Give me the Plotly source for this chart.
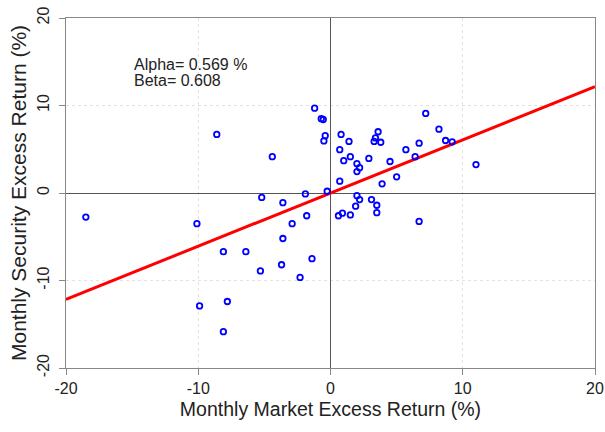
import plotly.graph_objects as go

# Monthly excess returns (%) for the market (x) and the security (y)
market_excess = [
    -18.5, -10.1, -1.2, -0.7, -0.55, -8.6, -0.4, -0.5, -4.4, -5.2,
    -3.6, -1.9, -0.25, -1.8, -2.9, -3.6, 7.2, 8.2, 0.8, 3.6,
    3.4, 3.3, 3.8, 1.4, 6.7, 8.7, 9.2, 0.7, 5.7, 1.5,
    2.9, 1.0, 4.5, 6.4, 2.0, 2.2, 2.0, 5.0, 0.7, 3.9,
    2.0, 2.2, 3.1, 3.5, 1.9, 3.5, 0.9, 0.6, 1.5, 6.7,
    11.0, -8.1, -6.4, -1.4, -3.7, -5.3, -2.3, -7.8, -9.9, -8.1,
]
security_excess = [
    -2.75, -3.5, 9.7, 8.5, 8.4, 6.7, 6.55, 5.95, 4.15, -0.5,
    -1.1, -0.1, 0.2, -2.6, -3.5, -5.2, 9.1, 7.3, 6.7, 7.0,
    6.3, 5.9, 5.8, 5.9, 5.7, 6.0, 5.85, 4.95, 4.95, 4.15,
    3.95, 3.7, 3.6, 4.15, 3.35, 2.9, 2.45, 1.85, 1.35, 1.05,
    -0.3, -0.75, -0.75, -1.4, -1.5, -2.25, -2.3, -2.6, -2.5, -3.25,
    3.25, -6.7, -6.7, -7.5, -8.2, -8.9, -9.65, -12.4, -12.9, -15.85,
]

alpha = 0.569
beta = 0.608

axis_range = [-20, 20]
tick_values = [-20, -10, 0, 10, 20]
tick_labels = ["-20", "-10", "0", "10", "20"]

font_family = "Liberation Sans, Arial, sans-serif"
text_color = "#222222"

fig = go.Figure()

# Characteristic line with slope beta
line_x = axis_range
line_y = [beta * x for x in line_x]
fig.add_trace(go.Scatter(
    x=line_x, y=line_y, mode="lines",
    line=dict(color="#ff0000", width=3),
    hoverinfo="skip", showlegend=False,
))

fig.add_trace(go.Scatter(
    x=market_excess, y=security_excess, mode="markers",
    marker=dict(symbol="circle-open", size=5.5, color="#0000ff",
                line=dict(width=1.8, color="#0000ff")),
    showlegend=False,
))

common_axis = dict(
    range=axis_range,
    tickmode="array",
    tickvals=tick_values,
    ticktext=tick_labels,
    ticks="outside",
    ticklen=6,
    tickcolor="#888888",
    showline=True,
    linecolor="#888888",
    linewidth=1,
    mirror=True,
    showgrid=True,
    gridcolor="#e2e2e2",
    griddash="dot",
    gridwidth=1,
    zeroline=True,
    zerolinecolor="#555555",
    zerolinewidth=1,
    automargin=False,
    tickfont=dict(family=font_family, size=16, color=text_color),
)

fig.update_xaxes(
    **common_axis,
    title=dict(text="Monthly Market Excess Return (%)",
               font=dict(family=font_family, size=19.5, color=text_color),
               standoff=6),
)
fig.update_yaxes(
    **common_axis,
    tickangle=-90,
    ticklabelstandoff=4,
    title=dict(text="Monthly Security Excess Return (%)",
               font=dict(family=font_family, size=21, color=text_color),
               standoff=2),
)

fig.add_annotation(
    x=-15, y=14.66, xref="x", yref="y",
    text=f"Alpha= {alpha} %", showarrow=False,
    xanchor="left", yanchor="middle",
    font=dict(family=font_family, size=16, color=text_color),
)
fig.add_annotation(
    x=-15, y=12.83, xref="x", yref="y",
    text=f"Beta= {beta}", showarrow=False,
    xanchor="left", yanchor="middle",
    font=dict(family=font_family, size=16, color=text_color),
)

fig.update_layout(
    width=605, height=432,
    margin=dict(l=66, r=10, t=18, b=64),
    plot_bgcolor="white",
    paper_bgcolor="white",
)

fig.write_html("out.html")
